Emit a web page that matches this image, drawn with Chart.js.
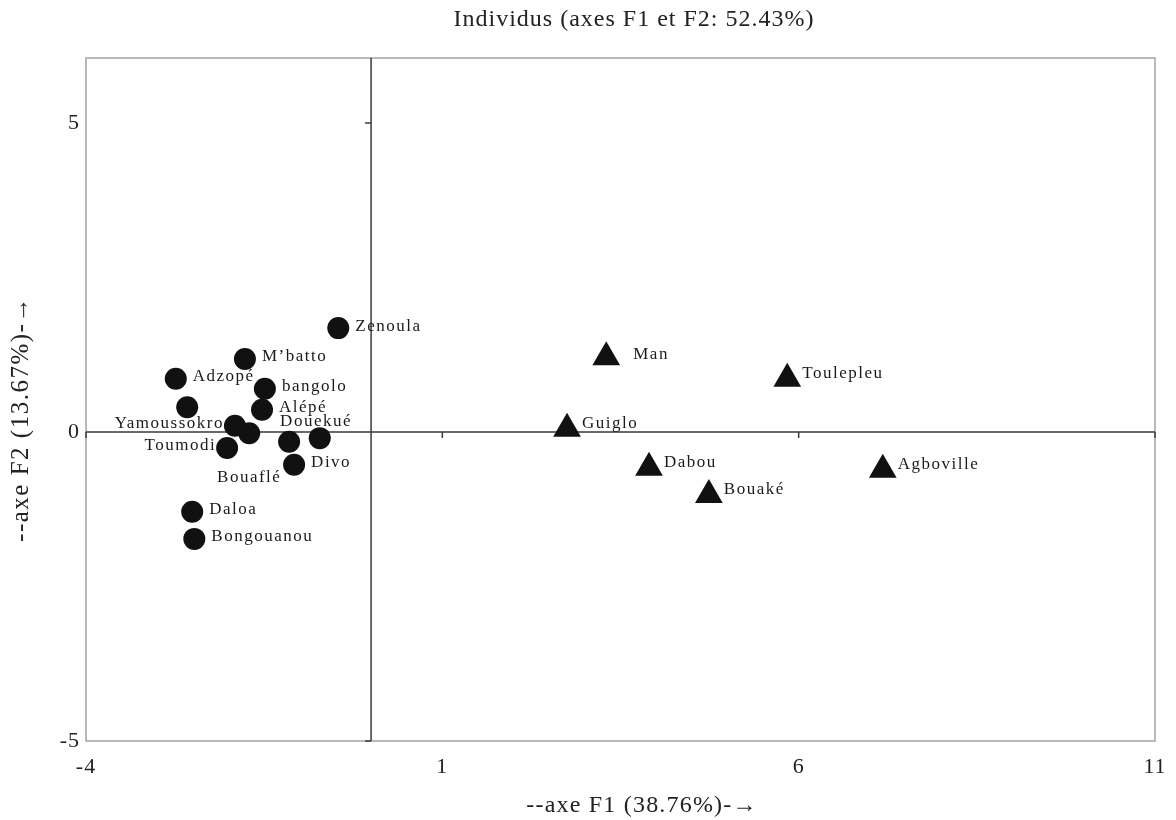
<!DOCTYPE html>
<html>
<head>
<meta charset="utf-8">
<script src="https://cdn.jsdelivr.net/npm/chart.js@4"></script>
<style>
  html, body { margin: 0; padding: 0; background: #fff; overflow: hidden; }
  #wrap { width: 1176px; height: 820px; }
</style>
</head>
<body>
<div id="wrap"><canvas id="chart"></canvas></div>
<script>
// individuals shown as circles
const siteNames = ['Zenoula', 'M’batto', 'Adzopé', 'bangolo', 'Alépé', '', 'Yamoussokro', 'Bouaflé',
                   'Toumodi', 'Douekué', '', 'Divo', 'Daloa', 'Bongouanou'];
const siteF1 = [-0.46, -1.77, -2.74, -1.49, -1.53, -2.58, -1.91, -1.71, -2.02, -1.15, -0.72, -1.08, -2.51, -2.48];
const siteF2 = [1.68, 1.18, 0.86, 0.70, 0.36, 0.40, 0.10, -0.02, -0.26, -0.16, -0.10, -0.53, -1.29, -1.73];
const siteLabelSide = ['right', 'right', 'right', 'right', 'right', 'none', 'left', 'below',
                       'left', 'above', 'none', 'right', 'right', 'right'];

// individuals shown as triangles
const townNames = ['Man', 'Toulepleu', 'Guiglo', 'Dabou', 'Bouaké', 'Agboville'];
const townF1 = [3.30, 5.84, 2.75, 3.90, 4.74, 7.18];
const townF2 = [1.21, 0.86, 0.05, -0.58, -1.02, -0.61];
const townLabelSide = ['farRight', 'tri', 'tri', 'tri', 'tri', 'tri'];

const xTicks = [-4, 1, 6, 11];
const yTicks = [-5, 0, 5];

const chartTitle = 'Individus (axes F1 et F2: 52.43%)';
const xTitle = '--axe F1 (38.76%)-→';
const yTitle = '--axe F2 (13.67%)-→';

const SERIF = '"Liberation Serif", "Times New Roman", serif';

function toPoints(xs, ys) {
    return xs.map((x, i) => ({ x: x, y: ys[i] }));
}

const whiteBg = {
    id: 'whiteBg',
    beforeDraw(chart) {
        const ctx = chart.ctx;
        ctx.save();
        ctx.fillStyle = '#fff';
        ctx.fillRect(0, 0, chart.width, chart.height);
        ctx.restore();
        ctx.letterSpacing = '1px';
    }
};

// main title and the two axis titles, placed like the original figure
const titles = {
    id: 'titles',
    afterDraw(chart) {
        const ctx = chart.ctx;
        ctx.save();
        ctx.fillStyle = '#222';
        ctx.textAlign = 'center';
        ctx.textBaseline = 'middle';

        ctx.font = '24px ' + SERIF;
        ctx.letterSpacing = '1px';
        ctx.fillText(chartTitle, 634, 20);

        ctx.letterSpacing = '1.2px';
        ctx.fillText(xTitle, 642, 806);

        ctx.font = '25px ' + SERIF;
        ctx.letterSpacing = '1.5px';
        ctx.translate(21, 419);
        ctx.rotate(-Math.PI / 2);
        ctx.fillText(yTitle, 0, 0);
        ctx.restore();
    }
};

// frame, the two zero axes and their small tick marks
const axesLines = {
    id: 'axesLines',
    beforeDatasetsDraw(chart) {
        const { ctx, chartArea: a, scales: { x, y } } = chart;
        ctx.save();
        ctx.strokeStyle = '#a3a3a3';
        ctx.lineWidth = 1.5;
        ctx.strokeRect(a.left, a.top, a.right - a.left, a.bottom - a.top);

        const x0 = x.getPixelForValue(0);
        const y0 = y.getPixelForValue(0);
        ctx.strokeStyle = '#3a3a3a';
        ctx.lineWidth = 1.5;
        ctx.beginPath();
        ctx.moveTo(a.left, y0); ctx.lineTo(a.right, y0);
        ctx.moveTo(x0, a.top); ctx.lineTo(x0, a.bottom);
        xTicks.forEach(v => {
            const px = x.getPixelForValue(v);
            ctx.moveTo(px, y0); ctx.lineTo(px, y0 + 6);
        });
        yTicks.forEach(v => {
            const py = y.getPixelForValue(v);
            ctx.moveTo(x0, py); ctx.lineTo(x0 - 6, py);
        });
        ctx.stroke();
        ctx.restore();
    }
};

const pointLabels = {
    id: 'pointLabels',
    afterDatasetsDraw(chart) {
        const ctx = chart.ctx;
        ctx.save();
        ctx.font = '17px ' + SERIF;
        ctx.fillStyle = '#1a1a1a';
        ctx.letterSpacing = '1.5px';
        ctx.textBaseline = 'middle';
        chart.data.datasets.forEach((ds, i) => {
            chart.getDatasetMeta(i).data.forEach((pt, j) => {
                const name = ds.names[j];
                const side = ds.sides[j];
                if (!name || side === 'none') return;
                let tx = pt.x, ty = pt.y, align = 'left';
                if (side === 'right') { tx += 17; ty -= 2; }
                else if (side === 'left') { tx -= 11; ty -= 2; align = 'right'; }
                else if (side === 'above') { tx -= 9; ty -= 20; }
                else if (side === 'below') { ty += 44; align = 'center'; }
                else if (side === 'tri') { tx += 15; ty -= 5; }
                else if (side === 'farRight') { tx += 27; ty -= 3; }
                ctx.textAlign = align;
                ctx.fillText(name, tx, ty);
            });
        });
        ctx.restore();
    }
};

new Chart(document.getElementById('chart'), {
    type: 'scatter',
    data: {
        datasets: [{
            data: toPoints(siteF1, siteF2),
            names: siteNames,
            sides: siteLabelSide,
            pointStyle: 'circle',
            pointRadius: 11,
            pointHoverRadius: 11,
            backgroundColor: '#111',
            borderColor: '#111',
            borderWidth: 0
        }, {
            data: toPoints(townF1, townF2),
            names: townNames,
            sides: townLabelSide,
            pointStyle: 'triangle',
            pointRadius: 16,
            pointHoverRadius: 16,
            backgroundColor: '#111',
            borderColor: '#111',
            borderWidth: 0
        }]
    },
    options: {
        responsive: true,
        maintainAspectRatio: false,
        animation: false,
        layout: { padding: { left: 0, right: 21, top: 58, bottom: 0 } },
        plugins: {
            legend: { display: false },
            tooltip: { enabled: false },
            title: { display: false }
        },
        scales: {
            x: {
                type: 'linear',
                min: -4,
                max: 11,
                afterBuildTicks: s => { s.ticks = xTicks.map(v => ({ value: v })); },
                afterFit: s => { s.height = 79; s.paddingLeft = 0; s.paddingRight = 0; },
                grid: { display: false, drawTicks: false },
                border: { display: false },
                ticks: { color: '#222', padding: 13, font: { family: SERIF, size: 22 } }
            },
            y: {
                type: 'linear',
                min: -5,
                max: 6.05,
                afterBuildTicks: s => { s.ticks = yTicks.map(v => ({ value: v })); },
                afterFit: s => { s.width = 86; s.paddingTop = 0; s.paddingBottom = 0; },
                grid: { display: false, drawTicks: false },
                border: { display: false },
                ticks: { color: '#222', padding: 6, font: { family: SERIF, size: 22 } }
            }
        }
    },
    plugins: [whiteBg, axesLines, pointLabels, titles]
});
</script>
</body>
</html>
